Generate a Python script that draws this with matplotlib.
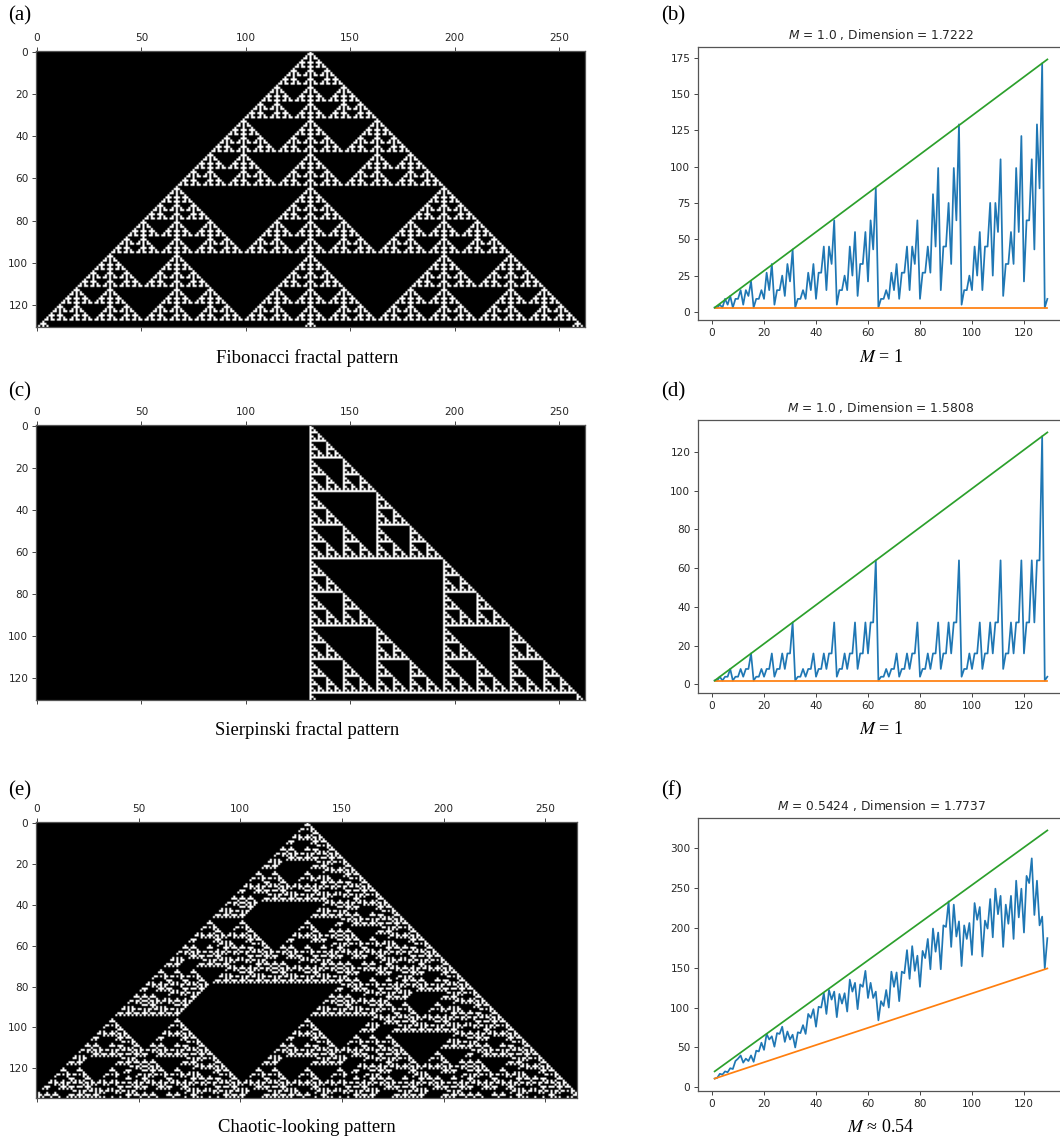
import numpy as np
import matplotlib
matplotlib.use('Agg')
import matplotlib.pyplot as plt

W, H = 1060, 1140

# row counts (b), (d), (f), x = 1..129
counts_b = [3, 3, 5, 3, 9, 5, 11, 3, 9, 9, 15, 5, 15, 11, 21, 3,
            9, 9, 15, 9, 27, 15, 33, 5, 15, 15, 25, 11, 33, 21, 43, 3,
            9, 9, 15, 9, 27, 15, 33, 9, 27, 27, 45, 15, 45, 33, 63, 5,
            15, 15, 25, 15, 45, 25, 55, 11, 33, 33, 55, 21, 63, 43, 85, 3,
            9, 9, 15, 9, 27, 15, 33, 9, 27, 27, 45, 15, 45, 33, 63, 9,
            27, 27, 45, 27, 81, 45, 99, 15, 45, 45, 75, 33, 99, 63, 129, 5,
            15, 15, 25, 15, 45, 25, 55, 15, 45, 45, 75, 25, 75, 55, 105, 11,
            33, 33, 55, 33, 99, 55, 121, 21, 63, 63, 105, 43, 129, 85, 171, 3, 9]
counts_d = [2, 2, 4, 2, 4, 4, 8, 2, 4, 4, 8, 4, 8, 8, 16,
            2, 4, 4, 8, 4, 8, 8, 16, 4, 8, 8, 16, 8, 16, 16, 32,
            2, 4, 4, 8, 4, 8, 8, 16, 4, 8, 8, 16, 8, 16, 16, 32,
            4, 8, 8, 16, 8, 16, 16, 32, 8, 16, 16, 32, 16, 32, 32, 64,
            2, 4, 4, 8, 4, 8, 8, 16, 4, 8, 8, 16, 8, 16, 16, 32,
            4, 8, 8, 16, 8, 16, 16, 32, 8, 16, 16, 32, 16, 32, 32, 64,
            4, 8, 8, 16, 8, 16, 16, 32, 8, 16, 16, 32, 16, 32, 32, 64,
            8, 16, 16, 32, 16, 32, 32, 64, 16, 32, 32, 64, 32, 64, 64, 128, 2, 4]
counts_f = [11, 12, 17, 16, 20, 19, 24, 23, 33, 36, 40, 31, 36, 33, 40, 32,
            46, 45, 56, 47, 67, 60, 64, 51, 68, 67, 76, 57, 70, 60, 66, 50,
            69, 68, 78, 67, 92, 87, 98, 76, 101, 100, 118, 92, 122, 110, 120, 88,
            117, 105, 118, 95, 135, 120, 131, 98, 129, 126, 146, 112, 131, 112, 120, 84,
            108, 102, 122, 100, 145, 126, 144, 108, 145, 143, 172, 136, 177, 146, 165, 126,
            171, 162, 186, 148, 199, 170, 194, 148, 203, 201, 233, 176, 229, 189, 208, 152,
            203, 186, 206, 166, 231, 210, 226, 164, 209, 199, 236, 188, 249, 217, 240, 176,
            229, 205, 240, 186, 259, 213, 249, 194, 265, 256, 287, 216, 259, 203, 214, 149, 187]

line_x = [1, 129]
upper_b = [3, 173.7]
lower_b = [3, 3]
upper_d = [2, 130]
lower_d = [2, 2]
upper_f = [20, 322]
lower_f = [11, 149]

titles = ['$M$ = 1.0 , Dimension = 1.7222', '$M$ = 1.0 , Dimension = 1.5808',
          '$M$ = 0.5424 , Dimension = 1.7737']
captions_left = ['Fibonacci fractal pattern', 'Sierpinski fractal pattern', 'Chaotic-looking pattern']
captions_right = ['$M$ = 1', '$M$ = 1', r'$M$ ≈ 0.54']

# offsets of the cells feeding each new row: (previous row, row before that)
rule_a = ((-1, 0, 1), ())
rule_c = ((1, 0), ())
rule_e = ((-1, 0, 1), (-2, 0))


def grow(rule, rows, cols, start):
    g = np.zeros((rows, cols), dtype=int)
    g[0, start] = 1
    for t in range(1, rows):
        v = np.zeros(cols, dtype=int)
        for s in rule[0]:
            v = v + np.roll(g[t - 1], s)
        if t > 1:
            for s in rule[1]:
                v = v + np.roll(g[t - 2], s)
        g[t] = v % 2
    return g


def px_axes(fig, x0, y0, x1, y1):
    return fig.add_axes([x0 / W, 1 - y1 / H, (x1 - x0) / W, (y1 - y0) / H])


def style(ax):
    for s in ax.spines.values():
        s.set_color('#555555')
        s.set_linewidth(0.9)
    ax.tick_params(labelsize=7.6, length=3, width=0.7, color='#444444',
                   labelcolor='#262626', pad=2.5)


def pattern(fig, box, grid, label, caption, cap_y, label_y):
    ax = px_axes(fig, *box)
    ax.imshow(grid, cmap='gray', aspect='auto')
    ax.xaxis.set_ticks_position('both')
    ax.xaxis.set_label_position('top')
    ax.tick_params(axis='x', labeltop=True, labelbottom=False)
    ax.set_xticks(np.arange(0, 251, 50))
    ax.set_yticks(np.arange(0, 121, 20))
    style(ax)
    fig.text(8 / W, 1 - label_y / H, label, family='Liberation Serif', fontsize=15, va='center')
    fig.text(307 / W, 1 - cap_y / H, caption, family='Liberation Serif', fontsize=13.4,
             ha='center', va='center')


def counts(fig, box, values, upper, lower, title, label, caption, cap_y, label_y):
    ax = px_axes(fig, *box)
    ax.plot(np.arange(1, 130), values, color='C0', lw=1.25)
    ax.plot(line_x, lower, color='C1', lw=1.25)
    ax.plot(line_x, upper, color='C2', lw=1.25)
    ax.set_xticks(np.arange(0, 121, 20))
    ax.set_title(title, fontsize=8.8, color='#262626', pad=5.5)
    style(ax)
    fig.text(661 / W, 1 - label_y / H, label, family='Liberation Serif', fontsize=15, va='center')
    fig.text(881 / W, 1 - cap_y / H, caption, family='Liberation Serif', fontsize=13,
             ha='center', va='center', math_fontfamily='stix')
    return ax


fig = plt.figure(figsize=(W / 100, H / 100), dpi=100)

pattern(fig, (36, 51, 585, 327), grow(rule_a, 131, 263, 131), '(a)', captions_left[0], 358, 16)
pattern(fig, (36, 425, 585, 700), grow(rule_c, 131, 263, 131), '(c)', captions_left[1], 730, 392)
pattern(fig, (36, 822, 577, 1098), grow(rule_e, 135, 266, 133), '(e)', captions_left[2], 1127, 791)

counts(fig, (698, 47, 1064, 320), counts_b, upper_b, lower_b, titles[0], '(b)', captions_right[0], 357, 16)
counts(fig, (698, 420, 1064, 693), counts_d, upper_d, lower_d, titles[1], '(d)', captions_right[1], 729, 392)
ax = counts(fig, (698, 818, 1064, 1091), counts_f, upper_f, lower_f, titles[2], '(f)', captions_right[2], 1127, 791)

fig.savefig('out.png', dpi=100)
